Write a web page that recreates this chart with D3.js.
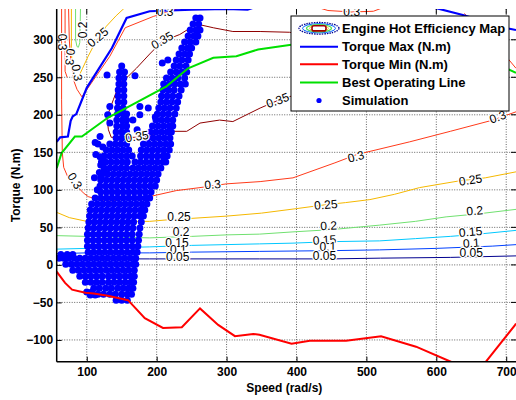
<!DOCTYPE html>
<html><head><meta charset="utf-8">
<script src="https://cdn.jsdelivr.net/npm/d3@7"></script>
<style>
body{margin:0;background:#fff}
svg{display:block}
text{font-family:"Liberation Sans",Arial,Helvetica,sans-serif}
</style>
</head><body>
<svg id="c" width="516" height="400"></svg>
<script>
// ---------- data ----------
const xTicks=[100,200,300,400,500,600,700];
const yTicks=[-100,-50,0,50,100,150,200,250,300];

const torqueMax=[[57,164],[62,170],[73,171],[77,192],[80,198],[85,201],[100,236],[136,289],[157,329],[190,338],[250,340],[300,341],[330,340],[345,345],[450,350],[560,350],[600,342],[638,333],[703,315],[714,313]];
const torqueMin=[[57,-9],[69,-24],[79,-33],[98,-37],[110,-38],[130,-41],[159,-47],[183,-71],[209,-84],[236,-83],[262,-58],[288,-80],[312,-95],[338,-92],[347,-93],[393,-105],[419,-101],[471,-101],[521,-95],[571,-109],[623,-130],[645,-150],[671,-129],[712,-81],[714,-78]];
const bestLine=[[57,129],[64,149],[83,171],[93,171],[130,196],[214,238],[245,262],[281,276],[314,278],[345,287],[390,293],[450,298],[550,300],[640,288],[700,262],[714,256]];

// efficiency contours (polyline of [speed, torque])
const contour005=[[57,9],[100,8],[190,8],[347,8],[450,8],[520,9],[620,10],[714,12]];
const contour01=[[57,15],[100,16],[190,16],[250,17],[347,18],[450,19],[519,20],[600,22],[680,25],[714,27]];
const contour015=[[57,21],[100,22],[190,24],[250,26],[347,28],[395,29],[450,31],[519,32],[570,35],[620,38],[660,41],[714,46]];
const contour02=[[57,39],[100,38],[190,36],[250,38],[300,40],[347,41],[395,44],[450,47],[519,53],[570,58],[614,64],[660,68],[714,74]];
const contour02b=[[84,341],[84,300],[86,291],[88,290],[90,296],[91,341]];
const contour025=[[57,70],[75,63],[100,58],[190,58],[215,60],[250,62],[300,65],[350,69],[400,75],[440,80],[470,83],[505,87],[540,94],[576,103],[633,112],[670,116],[714,124]];
const contour025b=[[78,341],[78,290],[79,262],[81,249],[84,244],[88,250],[94,262],[102,278],[112,296],[128,318],[142,332],[157,345]];
const contour03a=[[64,341],[64,290],[64,220],[65,150],[67,130],[73,117],[83,108],[95,96],[102,91],[116,87],[133,85],[160,88],[190,91],[228,99],[262,103],[300,108],[348,111],[395,116],[455,136],[486,147],[562,164],[620,178],[681,193],[714,204]];
const contour03b=[[74,341],[75,300],[77,275],[80,255],[82,244],[86,234],[93,224],[133,278],[155,316],[195,331],[212,336],[233,342],[300,346],[420,346],[445,339],[479,337],[510,338],[530,345]];
const contour03c=[[640,335],[680,300],[714,262]];
const contour03d=[[69,341],[69,258],[72,250]];
const contour035=[[390,224],[373,219],[348,209],[309,191],[290,193],[262,189],[243,178],[224,178],[200,175],[172,170],[150,170],[135,170],[131,180],[129,195],[132,205],[138,220],[147,242],[160,252],[171,262],[190,281],[208,298],[233,307],[252,318],[262,320],[281,316],[309,311],[348,311],[390,310],[440,300],[460,270],[430,240],[390,224]];

// contour labels: [text, speed, torque, angle]
const contourLabels=[
 ["0.3",64,297,90],["0.3",76,277,95],["0.3",86,256,80],["0.3",83,112,58],["0.3",280,107,-5],
 ["0.3",485,144,-15],["0.3",688,197,-20],["0.3",212,337,0],["0.3",479,337,0],
 ["0.35",208,299,-30],["0.35",172,171,-8],["0.35",373,219,-20],
 ["0.25",116,303,-40],["0.25",232,64,0],["0.25",442,80,-5],["0.25",649,113,-8],
 ["0.2",95,313,-90],["0.2",235,44,0],["0.2",446,52,-3],["0.2",655,72,-5],
 ["0.15",229,29,0],["0.15",440,33,-3],["0.15",649,44,-5],
 ["0.1",231,20,0],["0.1",445,24,0],["0.1",650,29,-4],
 ["0.05",230,11,0],["0.05",440,12,0],["0.05",650,16,0]
];

// simulation points: rows of [torque, speeds]
const simRows=[
 [-47,[142,150,158]],
 [-40,[105,112]],
 [-39,[116,124,133,141,150,158,164]],
 [-36,[100,107]],
 [-31,[110,118,127,135,144,152,160,166]],
 [-23,[98,106,114,122,131,139,147,155,163,167]],
 [-15,[90,98,106,114,122,131,139,147,155,163,168]],
 [-7,[80,88,96,104,112,120,128,136,144,152,160,168]],
 [1,[70,78,86,94,102,110,118,126,134,142,150,158,166,170]],
 [9,[60,67,74,82,90,98,106,114,122,130,138,146,154,162,170]],
 [14,[63,72,80]],
 [17,[102,110,118,126,134,142,150,158,166,172]],
 [25,[101,109,117,125,133,141,149,157,165,173]],
 [33,[101,109,117,125,133,141,149,157,165,174]],
 [41,[101,109,117,125,133,141,149,157,165,175]],
 [49,[102,110,118,126,134,142,150,158,166,176]],
 [57,[103,111,119,127,135,143,151,159,167,178]],
 [65,[104,112,120,128,136,144,152,160,168,176,181]],
 [73,[105,113,121,129,137,145,153,161,169,177,183]],
 [81,[107,115,123,131,139,147,155,163,171,179,186]],
 [89,[112,120,128,136,144,152,160,168,176,184,190]],
 [97,[120,128,136,144,152,160,168,176,184,192]],
 [105,[119,127,135,143,151,159,167,175,183,191,198]],
 [113,[120,128,136,144,152,160,168,176,184,192,200]],
 [121,[122,130,138,146,154,162,170,178,186,194,202]],
 [129,[125,133,141,149,157,166,174,182,190,198,206]],
 [137,[121,127,135,143,151,158,169,177,185,193,201,209,213]],
 [145,[125,133,141,149,157,165,177,185,193,201,209,215]],
 [153,[128,136,144,152,160,178,186,194,202,210,218]],
 [161,[133,141,149,157,181,189,197,205,213,220]],
 [169,[142,150,158,187,195,203,211,219]],
 [177,[142,150,157,191,199,207,215,221]],
 [185,[143,151,157,194,202,210,218,223]],
 [193,[143,151,157,199,207,215,223]],
 [201,[144,152,157,201,209,217,226]],
 [209,[144,152,203,211,219,228]],
 [217,[145,153,206,214,222,230]],
 [225,[145,153,207,215,223,232]],
 [233,[145,153,209,217,225,235]],
 [241,[146,153,210,218,226,234,241]],
 [249,[146,153,214,222,230,240]],
 [257,[147,154,220,228,236,243]],
 [265,[150,225,233,242]],
 [273,[228,236,245]],
 [281,[232,240,247]],
 [289,[236,244,250]],
 [297,[240,248,256]],
 [305,[245,253,259]],
 [313,[248,256,262]],
 [321,[252,260]],
 [329,[256,262]]
];
const simExtra=[[129,253],[169,252],[133,211],[130,200],[133,189],[116,161],[123,157],[119,144],[122,136],[118,123],[126,123],[176,211],[188,209],[176,200],[172,180],[198,197],[208,269],[216,273],[166,193],[112,163],[113,147],[120,133],[111,116],[120,117],[119,171],[115,100]];

const legendItems=["Engine Hot Efficiency Map","Torque Max (N.m)","Torque Min (N.m)","Best Operating Line","Simulation"];

// ---------- drawing ----------
const L=56.7,R=516,T=9,B=361.7;
const x=d3.scaleLinear().domain([57,714]).range([L,R]);
const y=d3.scaleLinear().domain([-129,341]).range([B,T]);
const svg=d3.select("#c");

svg.append("defs").append("clipPath").attr("id","clip")
  .append("rect").attr("x",L).attr("y",T).attr("width",R-L).attr("height",B-T);

// grid
const grid=svg.append("g").attr("stroke","#666").attr("stroke-width",1).attr("stroke-dasharray","1,1.5");
grid.selectAll("line.vx").data(xTicks).join("line").attr("x1",d=>x(d)).attr("x2",d=>x(d)).attr("y1",T).attr("y2",B);
grid.selectAll("line.hy").data(yTicks).join("line").attr("x1",L).attr("x2",R).attr("y1",d=>y(d)).attr("y2",d=>y(d));

const plot=svg.append("g").attr("clip-path","url(#clip)");
const line=d3.line().x(d=>x(d[0])).y(d=>y(d[1]));

const contours=[
 [contour005,"#00008f"],[contour01,"#0040ff"],[contour015,"#00c8ff"],
 [contour02,"#70e070"],[contour02b,"#70e070"],
 [contour025,"#f5b800"],[contour025b,"#f5b800"],
 [contour03a,"#ff3a1a"],[contour03b,"#ff3a1a"],[contour03c,"#ff3a1a"],[contour03d,"#ff3a1a"],
 [contour035,"#8f0000"]
];
contours.forEach(([pts,col])=>{
  plot.append("path").attr("d",line(pts)).attr("fill","none").attr("stroke",col).attr("stroke-width",1);
});

// simulation scatter
const simPts=[];
simRows.forEach(([t,sp])=>sp.forEach(s=>simPts.push([s,t])));
simExtra.forEach(p=>simPts.push(p));
plot.selectAll("circle.sim").data(simPts).join("circle")
  .attr("cx",d=>x(d[0])).attr("cy",d=>y(d[1])).attr("r",3.5).attr("fill","#0000ff");

// main lines
plot.append("path").attr("d",line(bestLine)).attr("fill","none").attr("stroke","#00e000").attr("stroke-width",2);
plot.append("path").attr("d",line(torqueMax)).attr("fill","none").attr("stroke","#0000ff").attr("stroke-width",2.2);
plot.append("path").attr("d",line(torqueMin)).attr("fill","none").attr("stroke","#ff0000").attr("stroke-width",2);

// contour labels
plot.selectAll("text.cl").data(contourLabels).join("text")
  .attr("transform",d=>`translate(${x(d[1])},${y(d[2])}) rotate(${d[3]})`)
  .attr("text-anchor","middle").attr("dominant-baseline","central")
  .attr("font-size",12).attr("fill","#000")
  .attr("stroke","#fff").attr("stroke-width",2.5).attr("paint-order","stroke")
  .text(d=>d[0]);

// axes
const ax=svg.append("g");
ax.append("g").attr("transform",`translate(0,${B})`)
  .call(d3.axisBottom(x).tickValues(xTicks).tickSize(-5).tickPadding(6))
  .call(g=>g.select(".domain").remove());
ax.append("g").attr("transform",`translate(${L},0)`)
  .call(d3.axisLeft(y).tickValues(yTicks).tickSize(-5).tickPadding(3.5))
  .call(g=>g.select(".domain").remove());
ax.selectAll(".tick text").attr("font-size",12).attr("font-weight","bold").attr("fill","#000")
  .attr("font-family","Liberation Sans, Arial, sans-serif");
ax.selectAll(".tick line").attr("stroke","#000");
// top / right ticks
svg.append("g").selectAll("line").data(xTicks).join("line")
  .attr("x1",d=>x(d)).attr("x2",d=>x(d)).attr("y1",T).attr("y2",T+5).attr("stroke","#000");
svg.append("g").selectAll("line").data(yTicks).join("line")
  .attr("x1",R-5).attr("x2",R).attr("y1",d=>y(d)).attr("y2",d=>y(d)).attr("stroke","#000");
svg.append("line").attr("x1",L).attr("x2",L).attr("y1",T).attr("y2",B).attr("stroke","#000").attr("stroke-width",1.5);
svg.append("line").attr("x1",L).attr("x2",R).attr("y1",B).attr("y2",B).attr("stroke","#000").attr("stroke-width",1.5);

// axis titles
svg.append("text").attr("x",(L+R)/2-2).attr("y",388).attr("text-anchor","middle").attr("dominant-baseline","central")
  .attr("font-size",12).attr("font-weight","bold").text("Speed (rad/s)");
svg.append("text").attr("transform",`translate(16,${(T+B)/2}) rotate(-90)`).attr("text-anchor","middle")
  .attr("dominant-baseline","central").attr("font-size",12).attr("font-weight","bold").text("Torque (N.m)");

// legend
const lg=svg.append("g");
lg.append("rect").attr("x",291).attr("y",16).attr("width",218).attr("height",95).attr("fill","#fff").attr("stroke","#000").attr("stroke-width",1);
const rowsY=[28.3,46.7,64.3,82.5,100.5];
const ic=lg.append("g").attr("transform",`translate(319,${rowsY[0]})`);
ic.append("ellipse").attr("rx",20).attr("ry",5.8).attr("fill","none").attr("stroke","#00008f").attr("stroke-width",1.3).attr("stroke-dasharray","1.5,1");
ic.append("ellipse").attr("rx",16.5).attr("ry",4.6).attr("fill","none").attr("stroke","#0060ff").attr("stroke-width",1);
ic.append("ellipse").attr("rx",12.5).attr("ry",3.6).attr("fill","none").attr("stroke","#50e050").attr("stroke-width",1.2);
ic.append("ellipse").attr("rx",9.5).attr("ry",2.8).attr("fill","none").attr("stroke","#f5b800").attr("stroke-width",0.8);
ic.append("rect").attr("x",-7).attr("y",-2.6).attr("width",14).attr("height",5.2).attr("rx",2).attr("fill","#fff").attr("stroke","#a00000").attr("stroke-width",1.6);
const lcol=[null,"#0000ff","#ff0000","#00e000"];
[1,2,3].forEach(i=>{
  lg.append("line").attr("x1",300).attr("x2",338).attr("y1",rowsY[i]).attr("y2",rowsY[i]).attr("stroke",lcol[i]).attr("stroke-width",2);
});
lg.append("circle").attr("cx",319).attr("cy",rowsY[4]).attr("r",2.6).attr("fill","#0000ff");
lg.selectAll("text.li").data(legendItems).join("text")
  .attr("x",342).attr("y",(d,i)=>rowsY[i]).attr("dominant-baseline","central")
  .attr("font-size",13).attr("font-weight","bold").attr("fill","#000").text(d=>d);
</script>
</body></html>
